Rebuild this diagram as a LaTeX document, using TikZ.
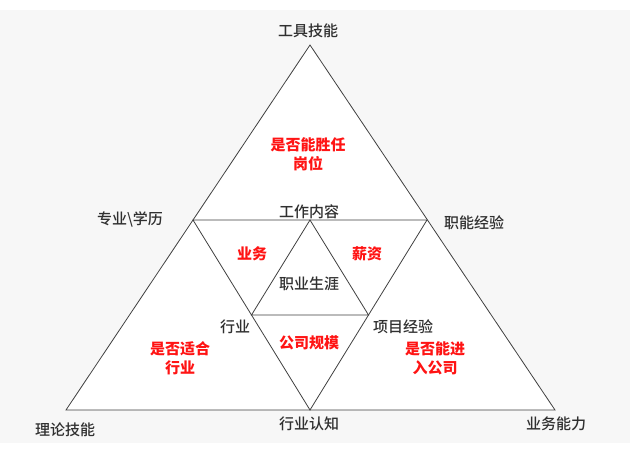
\documentclass[tikz,border=0pt]{standalone}
\usepackage{fontspec}
\newfontfamily\cjk{Noto Sans CJK SC}
\newfontfamily\cjkmid{Noto Sans CJK SC Medium}
\usetikzlibrary{positioning,calc}
\definecolor{bggray}{HTML}{F7F7F7}
\definecolor{linegray}{HTML}{404040}
\definecolor{txtgray}{HTML}{303030}
\definecolor{hotred}{HTML}{FF1414}
\tikzset{>=latex}
\tikzset{
  lbl/.style={font=\cjkmid\fontsize{15}{19}\selectfont, text=txtgray,
    inner sep=0pt, align=center},
  hot/.style={lbl, text=hotred, font=\cjk\bfseries\fontsize{15}{19}\selectfont},
  edge/.style={draw=linegray, line width=0.8pt, line join=miter}
}

\begin{document}
\begin{tikzpicture}[x=1pt,y=-1pt]
  \useasboundingbox (0,0) rectangle (630,449);
  \fill[bggray] (0,10) rectangle (630,443);
  % outer triangle
  \coordinate (top) at (310,45);
  \coordinate (bl) at (66,410);
  \coordinate (br) at (555,410);
  \filldraw[edge, fill=white] (top) -- (bl) -- (br) -- cycle;
  % middle triangle
  \coordinate (ml) at (193,220);
  \coordinate (mr) at (427,220);
  \coordinate (bm) at (310,410);
  \draw[edge] (ml) -- (mr) -- (bm) -- cycle;
  % inner triangle
  \coordinate (it) at ($(ml)!0.5!(mr)$);
  \coordinate (il) at ($(ml)!0.5!(bm)$);
  \coordinate (ir) at ($(mr)!0.5!(bm)$);
  \draw[edge] (it) -- (il) -- (ir) -- cycle;

  % corner labels
  \node[lbl] (tool) at (308,31) {工具技能};
  \node[lbl] (major) at (130,219) {专业\textbackslash 学历};
  \node[lbl] (func) at (474,223) {职能经验};
  \node[lbl] (theory) at (65,430) {理论技能};
  \node[lbl] (indknow) at (309,424) {行业认知};
  \node[lbl] (bizab) at (556,424) {业务能力};
  \node[lbl] (work) at (309,212) {工作内容};
  \node[lbl] (career) at (309,284) {职业生涯};
  \node[lbl] (ind) at (235,327) {行业};
  \node[lbl] (proj) at (403,327) {项目经验};

  % questions
  \node[hot] (fit) at (308,154) {是否能胜任\\岗位};
  \node[hot] (biz) at (252,254) {业务};
  \node[hot] (pay) at (367,254) {薪资};
  \node[hot] (scale) at (309,343) {公司规模};
  \node[hot] (suit) at (180,358) {是否适合\\行业};
  \node[hot] (join) at (435,358) {是否能进\\入公司};
\end{tikzpicture}
\end{document}
